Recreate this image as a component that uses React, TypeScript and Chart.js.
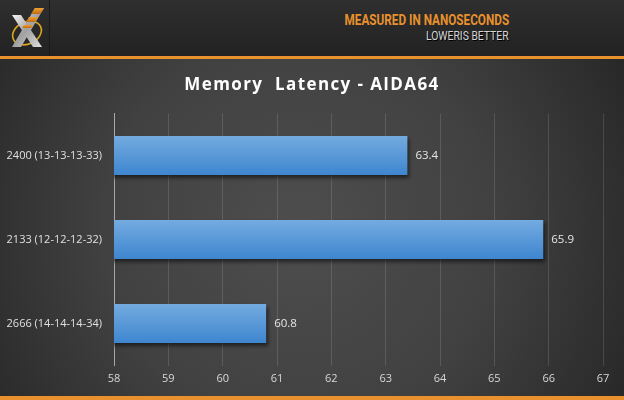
import React, { useEffect, useRef } from "react";
import { Chart, registerables } from "chart.js";

Chart.register(...registerables);

const categories: string[] = ["2400 (13-13-13-33)", "2133 (12-12-12-32)", "2666 (14-14-14-34)"];
const latencies: number[] = [63.4, 65.9, 60.8];
const axisMin = 58;
const axisMax = 67;
const titleText = "Memory  Latency - AIDA64";
const headerLine1 = "MEASURED IN NANOSECONDS";
const headerLine2 = "LOWERIS BETTER";

const W = 624;
const H = 400;

const bgPlugin = {
  id: "bgPlugin",
  beforeDraw(chart: any) {
    const ctx = chart.ctx as CanvasRenderingContext2D;
    ctx.save();
    const g = ctx.createRadialGradient(300, 230, 10, 300, 230, 380);
    g.addColorStop(0, "#4d4d4d");
    g.addColorStop(0.5, "#414141");
    g.addColorStop(1, "#262626");
    ctx.fillStyle = g;
    ctx.fillRect(0, 0, W, H);
    ctx.restore();
  },
};

const shadowPlugin = {
  id: "shadowPlugin",
  beforeDatasetsDraw(chart: any) {
    const ctx = chart.ctx as CanvasRenderingContext2D;
    ctx.save();
    ctx.shadowColor = "rgba(0,0,0,0.55)";
    ctx.shadowBlur = 4;
    ctx.shadowOffsetX = 2;
    ctx.shadowOffsetY = 3;
  },
  afterDatasetsDraw(chart: any) {
    const ctx = chart.ctx as CanvasRenderingContext2D;
    ctx.restore();
    const meta = chart.getDatasetMeta(0);
    ctx.save();
    ctx.font = "11.5px 'Open Sans', sans-serif";
    ctx.fillStyle = "#e6e6e6";
    ctx.textAlign = "left";
    ctx.textBaseline = "middle";
    meta.data.forEach((bar: any, i: number) => {
      ctx.fillText(latencies[i].toFixed(1), bar.x + 8, bar.y);
    });
    ctx.restore();
  },
};

export default function App() {
  const ref = useRef<HTMLCanvasElement | null>(null);
  useEffect(() => {
    if (!ref.current) return;
    const chart = new Chart(ref.current, {
      type: "bar",
      data: {
        labels: categories,
        datasets: [
          {
            data: latencies,
            backgroundColor: (c: any) => {
              const ch = c.chart;
              const area = ch.chartArea;
              const ys = ch.scales && ch.scales.y;
              if (!area || !ys || c.dataIndex === undefined) return "#4a8fd6";
              const cy = ys.getPixelForValue(c.dataIndex);
              const h = 39;
              const g = ch.ctx.createLinearGradient(0, cy - h / 2, 0, cy + h / 2);
              g.addColorStop(0, "#74abe0");
              g.addColorStop(1, "#3e86cf");
              return g;
            },
            borderWidth: 0,
            barPercentage: 0.93,
            categoryPercentage: 0.5,
          },
        ],
      },
      options: {
        indexAxis: "y",
        animation: false,
        responsive: false,
        maintainAspectRatio: false,
        events: [],
        layout: { padding: { top: 113.5, right: 21, left: 0, bottom: 0 } },
        plugins: { legend: { display: false }, tooltip: { enabled: false }, title: { display: false } },
        scales: {
          x: {
            min: axisMin,
            max: axisMax,
            ticks: {
              stepSize: 1,
              color: "#d8d8d8",
              font: { family: "'Open Sans', sans-serif", size: 11 },
              padding: 7,
            },
            grid: { color: "rgba(255,255,255,0.13)", drawTicks: false, lineWidth: 1 },
            border: { display: false },
            afterFit: (s: any) => {
              s.height = 34.5;
            },
          },
          y: {
            ticks: {
              color: "#e0e0e0",
              font: { family: "'Open Sans', sans-serif", size: 11 },
              padding: 12,
            },
            grid: { display: false, drawTicks: false },
            border: { display: true, color: "#a8a8a8", width: 1 },
            afterFit: (s: any) => {
              s.width = 114;
            },
          },
        },
      },
      plugins: [bgPlugin, shadowPlugin],
    } as any);
    return () => chart.destroy();
  }, []);

  return (
    <div style={{ position: "fixed", left: 0, top: 0, width: W, height: H, overflow: "hidden" }}>
      <canvas ref={ref} width={W} height={H} style={{ position: "absolute", left: 0, top: 0, width: W, height: H }} />
      <div
        style={{
          position: "absolute",
          left: 0,
          top: 0,
          width: W,
          height: 56,
          background: "linear-gradient(#2f2f2f, #222222)",
        }}
      />
      <div style={{ position: "absolute", left: 49, top: 0, width: 1, height: 56, background: "#1a1a1a" }} />
      <svg style={{ position: "absolute", left: 8, top: 6 }} width={38} height={44} viewBox="0 0 38 44">
        <defs>
          <linearGradient id="xg" x1="0" y1="0" x2="1" y2="1">
            <stop offset="0" stopColor="#f5f5f5" />
            <stop offset="0.5" stopColor="#a0a0a0" />
            <stop offset="1" stopColor="#e0e0e0" />
          </linearGradient>
          <linearGradient id="og" x1="0" y1="0" x2="0" y2="1">
            <stop offset="0" stopColor="#f0a030" />
            <stop offset="1" stopColor="#c06a10" />
          </linearGradient>
        </defs>
        <ellipse cx="19" cy="27" rx="15" ry="11" fill="none" stroke="#d9a820" strokeWidth={1.6} transform="rotate(-25 19 27)" />
        <polygon points="4,9 13,9 34,41 25,41" fill="url(#xg)" />
        <polygon points="27,2 36,2 13,41 4,41" fill="url(#xg)" />
        <polygon points="27,2 36,2 32,8 23,8" fill="url(#og)" />
        <polygon points="21,11 30,11 27,16 18,16" fill="url(#og)" />
        <polygon points="16,19 25,19 23,22 14,22" fill="url(#og)" />
      </svg>
      <div
        style={{
          position: "absolute",
          right: 115,
          top: 14,
          color: "#e8912d",
          fontFamily: "Roboto, sans-serif",
          fontWeight: 700,
          fontSize: 14.5,
          lineHeight: "14px",
          whiteSpace: "nowrap",
          textAlign: "right",
          transform: "scaleX(0.81)",
          transformOrigin: "right center",
        }}
      >
        {headerLine1}
      </div>
      <div
        style={{
          position: "absolute",
          right: 115,
          top: 30,
          color: "#d6d6d6",
          fontFamily: "Roboto, sans-serif",
          fontSize: 12.5,
          lineHeight: "12px",
          whiteSpace: "nowrap",
          textAlign: "right",
          textShadow: "1px 1px 0 #000",
          transform: "scaleX(0.83)",
          transformOrigin: "right center",
        }}
      >
        {headerLine2}
      </div>
      <div style={{ position: "absolute", left: 0, top: 56, width: W, height: 3, background: "#e8912d" }} />
      <div
        style={{
          position: "absolute",
          left: 0,
          top: 72,
          width: W,
          textAlign: "center",
          color: "#ffffff",
          fontFamily: "'Open Sans', sans-serif",
          fontWeight: 700,
          fontSize: 17,
          letterSpacing: "1.4px",
          lineHeight: "24px",
          whiteSpace: "pre",
        }}
      >
        {titleText}
      </div>
      <div style={{ position: "absolute", left: 0, top: 396, width: W, height: 4, background: "#e8912d" }} />
    </div>
  );
}
